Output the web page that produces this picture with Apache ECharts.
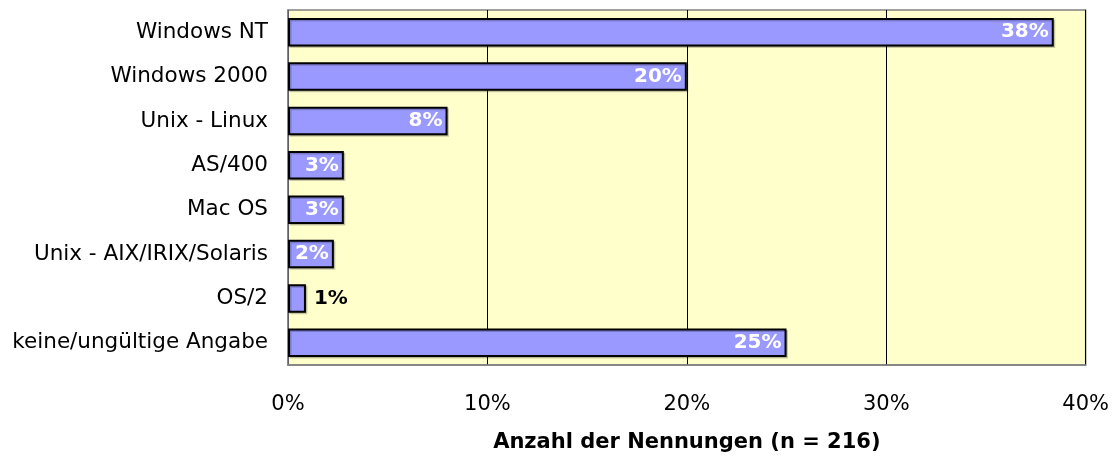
<!DOCTYPE html>
<html>
<head>
<meta charset="utf-8">
<script src="https://cdn.jsdelivr.net/npm/echarts@6/dist/echarts.min.js"></script>
<style>
    html, body { margin: 0; padding: 0; background: #fff; }
    #chart { width: 1112px; height: 458px; }
</style>
</head>
<body>
<div id="chart"></div>
<script>
    // categories top to bottom
    var categories = ['Windows NT', 'Windows 2000', 'Unix - Linux', 'AS/400', 'Mac OS',
        'Unix - AIX/IRIX/Solaris', 'OS/2', 'keine/ungültige Angabe'];
    var shares = [38.4, 20.0, 8.0, 2.8, 2.8, 2.3, 0.9, 25.0];
    var xTicks = [0, 10, 20, 30, 40];
    var axisTitle = 'Anzahl der Nennungen (n = 216)';

    var font = '"DejaVu Sans", sans-serif';

    var barData = shares.map(function (v) {
        var item = { value: v };
        if (v < 2) {
            item.label = { position: 'right', color: '#000', distance: 8 };
        }
        return item;
    });

    var chart = echarts.init(document.getElementById('chart'));
    chart.setOption({
        animation: false,
        grid: {
            left: 288, right: 26, top: 10, bottom: 92,
            show: true,
            backgroundColor: '#FFFFCC',
            borderColor: '#808080',
            borderWidth: 1.5
        },
        xAxis: {
            type: 'value',
            min: xTicks[0],
            max: xTicks[xTicks.length - 1],
            interval: 10,
            name: axisTitle,
            nameLocation: 'middle',
            nameGap: 67,
            nameTextStyle: { fontFamily: font, fontSize: 21, fontWeight: 'bold', color: '#000' },
            axisLine: { show: true, lineStyle: { color: '#808080', width: 1.5 } },
            axisTick: { show: false },
            axisLabel: {
                formatter: '{value}%',
                fontFamily: font, fontSize: 21, color: '#000', margin: 29
            },
            splitLine: { show: true, lineStyle: { color: '#000', width: 1 } }
        },
        yAxis: {
            type: 'category',
            data: categories,
            inverse: true,
            axisLine: { show: true, lineStyle: { color: '#808080', width: 1.5 } },
            axisTick: { show: false },
            axisLabel: { fontFamily: font, fontSize: 21.5, color: '#000', margin: 20 },
            splitLine: { show: false }
        },
        series: [{
            type: 'bar',
            data: barData,
            barCategoryGap: '36%',
            itemStyle: {
                color: '#9999FF', borderColor: '#000', borderWidth: 2,
                shadowColor: 'rgba(0,0,0,0.2)', shadowOffsetX: 1.5, shadowOffsetY: 1.5
            },
            label: {
                show: true,
                position: 'insideRight',
                distance: 5,
                color: '#fff',
                fontFamily: font,
                fontSize: 20,
                fontWeight: 'bold',
                formatter: function (p) { return Math.round(p.value) + '%'; }
            }
        }]
    });
</script>
</body>
</html>
